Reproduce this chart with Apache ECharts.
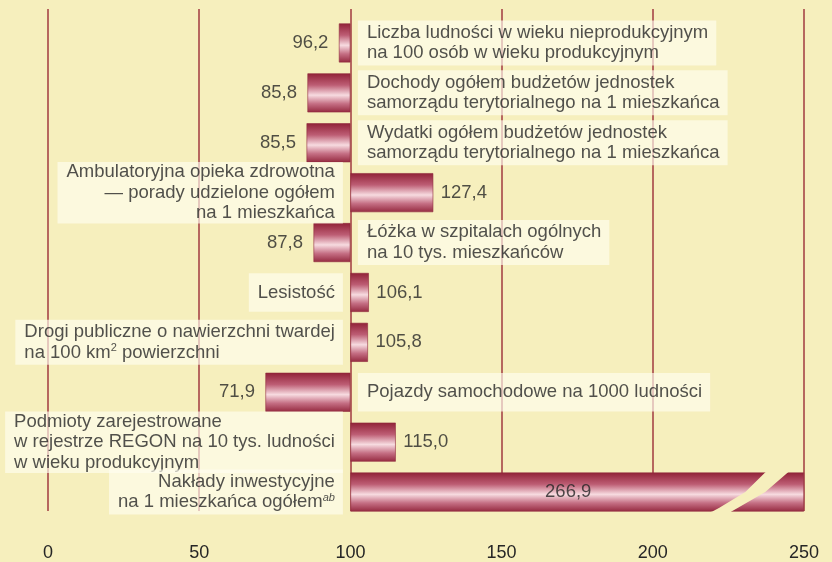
<!DOCTYPE html>
<html>
<head>
<meta charset="utf-8">
<script src="https://cdn.jsdelivr.net/npm/echarts@6.0.0/dist/echarts.min.js"></script>
<style>
    html, body { margin: 0; padding: 0; background: #f6efbd; }
    #chart { width: 832px; height: 562px; }
</style>
</head>
<body>
<div id="chart"></div>
<script>
// Nazwy wskaźników (od góry)
var names = [
    'Liczba ludności w wieku nieprodukcyjnym\nna 100 osób w wieku produkcyjnym',
    'Dochody ogółem budżetów jednostek\nsamorządu terytorialnego na 1 mieszkańca',
    'Wydatki ogółem budżetów jednostek\nsamorządu terytorialnego na 1 mieszkańca',
    'Ambulatoryjna opieka zdrowotna\n— porady udzielone ogółem\nna 1 mieszkańca',
    'Łóżka w szpitalach ogólnych\nna 10 tys. mieszkańców',
    'Lesistość',
    'Drogi publiczne o nawierzchni twardej\nna 100 km{sup|2} powierzchni',
    'Pojazdy samochodowe na 1000 ludności',
    'Podmioty zarejestrowane\nw rejestrze REGON na 10 tys. ludności\nw wieku produkcyjnym',
    'Nakłady inwestycyjne\nna 1 mieszkańca ogółem{ab|ab}'
];
// Wartości (Polska = 100)
var values = [96.2, 85.8, 85.5, 127.4, 87.8, 106.1, 105.8, 71.9, 115.0, 266.9];
// Oś X
var xTicks = [0, 50, 100, 150, 200, 250];
var baseLine = 100;

var xMin = xTicks[0], xMax = xTicks[xTicks.length - 1], xStep = xTicks[1] - xTicks[0];

// styl
var FONT = "'Liberation Sans', Arial, sans-serif";
var TEXT = '#262626';
var BG = '#f6efbd';
var FS = 18.5;
var barWidth = 39;
var leftAlignedNames = [6, 8];   // etykiety z wierszami wyrównanymi do lewej
// kształt przerwy (przesunięcie od xMax, ułamek grubości słupka)
var breakShape = [[-12.1, -0.56], [-19.4, 0], [-28, 0.4], [-30.3, 0.5], [-33, 0.56],
                  [-25.4, 0.56], [-12.8, 0], [-4.5, -0.56]];

function alignLeft(text) {
    return text.split('\n').map(function (line) {
        return line.split(/(\{\w+\|[^}]*\})/).map(function (part) {
            var m = part.match(/^\{(\w+)\|([^}]*)\}$/);
            if (m) return '{' + m[1] + 'L|' + m[2] + '}';
            return part ? '{l|' + part + '}' : '';
        }).join('');
    }).join('\n');
}

var baseData = values.map(function (v) { return Math.min(v, baseLine); });
var diffData = values.map(function (v) { return Math.abs(Math.min(v, xMax) - baseLine); });

var nameTexts = [];
var nameData = names.map(function (name, i) {
    var lines = name.split('\n').length;
    var onRight = values[i] < baseLine;
    var vpad = lines === 1 ? 9 : (lines === 2 ? 2 : 0);
    nameTexts[i] = leftAlignedNames.indexOf(i) >= 0 ? alignLeft(name) : name;
    return {
        value: [baseLine, i],
        label: {
            position: onRight ? 'right' : 'left',
            align: onRight ? 'left' : 'right',
            padding: [vpad, 8, vpad, 9]
        }
    };
});

var valueData = values.map(function (v, i) {
    if (v > xMax) {
        return {value: [(baseLine + xMax) / 2, i], label: {position: 'inside', offset: [-9, 0]}};
    }
    return {
        value: [v, i],
        label: {position: v < baseLine ? 'left' : 'right', distance: v < baseLine ? 10 : 7}
    };
});

var breakData = [];
values.forEach(function (v, i) { if (v > xMax) breakData.push([xMax, i]); });

var barGradient = new echarts.graphic.LinearGradient(0, 0, 0, 1, [
    {offset: 0, color: '#912237'},
    {offset: 0.3, color: '#bd5d74'},
    {offset: 0.56, color: '#f7dbe0'},
    {offset: 0.78, color: '#c56f84'},
    {offset: 1, color: '#952a40'}
]);

var chart = echarts.init(document.getElementById('chart'));
chart.setOption({
    backgroundColor: BG,
    animation: false,
    textStyle: {fontFamily: FONT},
    grid: [
        {left: 48, right: 28, top: 9, bottom: 46},
        {left: 48, right: 28, top: 18, bottom: 45}
    ],
    xAxis: [
        {
            gridIndex: 0, type: 'value', min: xMin, max: xMax, interval: xStep,
            axisLine: {show: false}, axisTick: {show: false},
            axisLabel: {fontSize: 18, color: TEXT, margin: 33, fontFamily: FONT},
            splitLine: {lineStyle: {color: '#a13a40', width: 1.5}}
        },
        {gridIndex: 1, type: 'value', min: xMin, max: xMax, interval: xStep, show: false, splitLine: {show: false}}
    ],
    yAxis: [
        {gridIndex: 0, type: 'value', show: false, splitLine: {show: false}},
        {
            gridIndex: 1, type: 'category', inverse: true, data: names.map(function (n, i) { return i; }),
            axisLine: {show: false}, axisTick: {show: false}, axisLabel: {show: false}, splitLine: {show: false}
        }
    ],
    series: [
        {
            type: 'bar', xAxisIndex: 1, yAxisIndex: 1, stack: 'total', silent: true,
            barWidth: barWidth,
            itemStyle: {color: 'rgba(0,0,0,0)'},
            data: baseData
        },
        {
            type: 'bar', xAxisIndex: 1, yAxisIndex: 1, stack: 'total', silent: true,
            barWidth: barWidth,
            itemStyle: {color: barGradient, borderColor: '#8e2a3d', borderWidth: 0.6},
            data: diffData
        },
        {
            // przerwa w słupku przekraczającym skalę
            type: 'custom', xAxisIndex: 1, yAxisIndex: 1, silent: true, z: 3,
            encode: {x: 0, y: 1},
            data: breakData,
            renderItem: function (params, api) {
                var idx = api.value(1);
                var pts = breakShape.map(function (p) {
                    var c = api.coord([xMax + p[0], idx]);
                    return [c[0], c[1] + p[1] * barWidth];
                });
                return {type: 'polygon', shape: {points: pts}, style: {fill: BG, stroke: null}};
            }
        },
        {
            // nazwy wskaźników
            type: 'scatter', xAxisIndex: 1, yAxisIndex: 1, silent: true, z: 4,
            symbolSize: 1, itemStyle: {color: 'rgba(0,0,0,0)'},
            label: {
                show: true, distance: 7,
                fontSize: FS, lineHeight: 20.5, color: TEXT, fontFamily: FONT,
                backgroundColor: 'rgba(255,253,240,0.82)',
                formatter: function (p) { return nameTexts[p.dataIndex]; },
                rich: {
                    l: {align: 'left', fontSize: FS, lineHeight: 20.5, color: TEXT, fontFamily: FONT},
                    sup: {fontSize: 11, lineHeight: 11, verticalAlign: 'top', color: TEXT, fontFamily: FONT},
                    supL: {align: 'left', fontSize: 11, lineHeight: 11, verticalAlign: 'top', color: TEXT, fontFamily: FONT},
                    ab: {fontSize: 11, lineHeight: 11, verticalAlign: 'top', fontStyle: 'italic', color: TEXT, fontFamily: FONT}
                }
            },
            data: nameData
        },
        {
            // wartości
            type: 'scatter', xAxisIndex: 1, yAxisIndex: 1, silent: true, z: 4,
            symbolSize: 1, itemStyle: {color: 'rgba(0,0,0,0)'},
            label: {
                show: true, fontSize: FS, color: TEXT, fontFamily: FONT,
                formatter: function (p) { return values[p.dataIndex].toFixed(1).replace('.', ','); }
            },
            data: valueData
        }
    ]
});

window.onresize = function () {
    chart.resize();
};
</script>
</body>
</html>
